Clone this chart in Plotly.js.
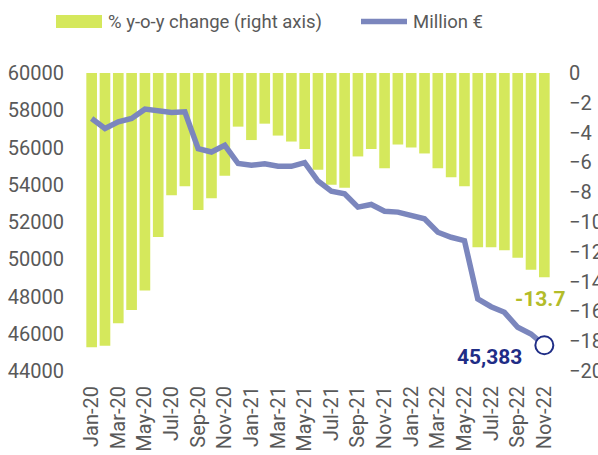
<!DOCTYPE html>
<html>
<head>
<meta charset="utf-8">
<script src="https://cdn.plot.ly/plotly-3.0.1.min.js"></script>
<style>html,body{margin:0;padding:0;background:#fff;}#chart{width:598px;height:455px;}</style>
</head>
<body>
<div id="chart"></div>
<script>
const months = ["Jan-20","Feb-20","Mar-20","Apr-20","May-20","Jun-20","Jul-20","Aug-20","Sep-20","Oct-20","Nov-20","Dec-20",
  "Jan-21","Feb-21","Mar-21","Apr-21","May-21","Jun-21","Jul-21","Aug-21","Sep-21","Oct-21","Nov-21","Dec-21",
  "Jan-22","Feb-22","Mar-22","Apr-22","May-22","Jun-22","Jul-22","Aug-22","Sep-22","Oct-22","Nov-22"];
const yoyChange = [-18.4,-18.3,-16.8,-15.9,-14.6,-11.0,-8.2,-7.6,-9.2,-8.4,-6.9,-3.6,
  -4.5,-3.4,-4.2,-4.6,-5.1,-6.5,-7.5,-7.7,-5.6,-5.1,-6.4,-4.8,
  -5.0,-5.4,-6.4,-7.0,-7.6,-11.7,-11.7,-11.9,-12.4,-13.2,-13.7];
const millionEur = [57560,57020,57380,57560,58060,57950,57880,57920,55940,55760,56120,55140,
  55050,55130,54990,54990,55190,54200,53660,53520,52800,52940,52580,52530,
  52350,52170,51450,51180,51000,47870,47450,47150,46350,45990,45383];
const tickMonths = months.filter((m, i) => i % 2 === 0);
const barName = "% y-o-y change (right axis)";
const lineName = "Million €";
const lastLabel = "45,383";
const lastYoyLabel = "-13.7";

const last = months.length - 1;
const FONT = "Roboto, 'Open Sans', sans-serif";
const GREY = "#595959";
const BAR = "#d5e85c";
const LINE = "#7b86bd";
const NAVY = "#1f2d86";
const OLIVE = "#b3bc2a";

// plot area in px: x 85..551, y 73..371
const px = v => (v - 85) / 466;
const py = v => (371 - v) / 298;

const traces = [
  {type: "bar", x: months, y: yoyChange, name: barName, yaxis: "y", xaxis: "x",
   marker: {color: BAR}, hoverinfo: "x+y", showlegend: false},
  {type: "scatter", mode: "lines", x: months, y: millionEur, name: lineName, yaxis: "y2", xaxis: "x",
   line: {color: LINE, width: 5.5, shape: "linear"}, showlegend: false, cliponaxis: false},
  {type: "scatter", mode: "markers", x: [months[last]], y: [millionEur[last]], yaxis: "y2", xaxis: "x",
   marker: {size: 18, color: "#ffffff", line: {color: NAVY, width: 2}}, showlegend: false,
   hoverinfo: "skip", cliponaxis: false}
];

const layout = {
  width: 598, height: 455,
  margin: {l: 85, r: 47, t: 73, b: 84, pad: 0},
  paper_bgcolor: "#ffffff", plot_bgcolor: "#ffffff",
  font: {family: FONT, size: 20, color: GREY},
  bargap: 0.2,
  showlegend: false,
  xaxis: {type: "category", range: [-0.5, months.length - 0.5], tickmode: "array",
    tickvals: tickMonths, ticktext: tickMonths, tickangle: -90, showgrid: false, zeroline: false,
    showline: false, ticks: "", ticklabelstandoff: 10, automargin: false,
    tickfont: {family: FONT, size: 20, color: GREY}},
  yaxis: {range: [-20, 0], dtick: 2, side: "right", showgrid: false, zeroline: false, showline: false,
    ticks: "", ticklabelstandoff: 17, automargin: false, tickfont: {family: FONT, size: 20, color: GREY}},
  yaxis2: {range: [44000, 60000], dtick: 2000, side: "left", overlaying: "y", showgrid: false,
    zeroline: false, showline: false, ticks: "", tickformat: "d", ticklabelstandoff: 20, automargin: false,
    tickfont: {family: FONT, size: 20, color: GREY}},
  shapes: [
    {type: "rect", xref: "paper", yref: "paper", x0: px(56), x1: px(102), y0: py(28), y1: py(15),
     fillcolor: BAR, line: {width: 0}},
    {type: "line", xref: "paper", yref: "paper", x0: px(361), x1: px(407), y0: py(21.5), y1: py(21.5),
     line: {color: LINE, width: 5.5}}
  ],
  annotations: [
    {xref: "paper", yref: "paper", x: px(106), y: py(21.5), xanchor: "left", yanchor: "middle",
     text: barName, showarrow: false, font: {family: FONT, size: 18.5, color: GREY}},
    {xref: "paper", yref: "paper", x: px(411), y: py(21.5), xanchor: "left", yanchor: "middle",
     text: lineName, showarrow: false, font: {family: FONT, size: 18.5, color: GREY}},
    {xref: "x", yref: "y2", x: months[last], y: millionEur[last], xanchor: "right", yanchor: "middle",
     xshift: -20, yshift: -12, text: "<b>" + lastLabel + "</b>", showarrow: false,
     font: {family: FONT, size: 21, color: NAVY}},
    {xref: "x", yref: "y", x: months[last], y: yoyChange[last], xanchor: "center", yanchor: "middle",
     xshift: -4, yshift: -22, text: "<b>" + lastYoyLabel + "</b>", showarrow: false,
     font: {family: FONT, size: 21, color: OLIVE}}
  ]
};

Plotly.newPlot("chart", traces, layout, {staticPlot: true, displayModeBar: false});
</script>
</body>
</html>
